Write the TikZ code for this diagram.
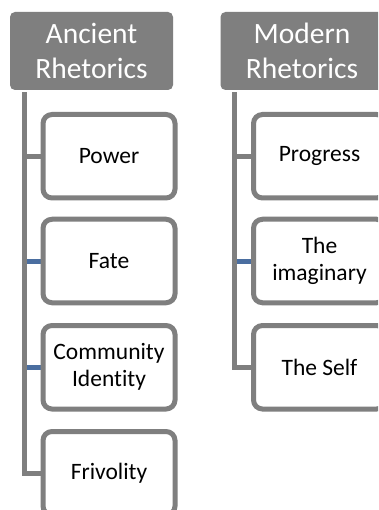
\documentclass[tikz,border=0pt]{standalone}
\usepackage{fontspec}
\setmainfont{Carlito}[Ligatures={NoCommon,NoRare,NoContextual}]
\pgfdeclarelayer{bg}
\pgfdeclarelayer{lines}
\pgfsetlayers{bg,lines,main}
\definecolor{boxgrey}{RGB}{127,127,127}
\definecolor{linkblue}{RGB}{74,110,160}
\tikzset{
  header/.style={fill=boxgrey, rounded corners=5pt, minimum width=163pt, minimum height=78pt,
    text=white, align=center, font=\fontsize{29.5}{35}\selectfont, inner sep=0pt},
  child/.style={draw=boxgrey, line width=5pt, fill=white, rounded corners=9pt,
    minimum width=132pt, minimum height=83.5pt, align=center,
    font=\fontsize{23.5}{27}\selectfont, inner sep=0pt},
  spine/.style={draw=boxgrey, line width=5pt},
  tie/.style={draw=linkblue, line width=5pt},
}
\begin{document}
\begin{tikzpicture}[x=1pt,y=-1pt]
\useasboundingbox (0,0) rectangle (378,510);
\clip (0,0) rectangle (378,510);
\begin{pgfonlayer}{bg}
  \fill[white] (0,0) rectangle (378,510);
\end{pgfonlayer}

% Ancient column
\node[header] (aH) at (91.5,51) {Ancient\\Rhetorics};
\node[child] (a1) at (109,156.25) {Power};
\node[child] (a2) at (109,261) {Fate};
\node[child] (a3) at (109,367.25) {Community\\Identity};
\node[child] (a4) at (109,473.25) {Frivolity};
\coordinate (aS) at ([xshift=-67.5pt,yshift=-2pt]aH.south);

% Modern column
\node[header] (mH) at (302,51) {Modern\\Rhetorics};
\node[child] (m1) at (319.5,156.25) {Progress};
\node[child] (m2) at (319.5,261) {The\\imaginary};
\node[child] (m3) at (319.5,367.25) {The Self};
\coordinate (mS) at ([xshift=-67.5pt,yshift=-2pt]mH.south);

\begin{pgfonlayer}{lines}
  \draw[tie] (aS |- a2.west) -- (a2.west);
  \draw[tie] (aS |- a3.west) -- (a3.west);
  \draw[spine] (aS |- a1.west) -- (a1.west);
  \draw[spine] (aS) |- (a4.west);
  \draw[tie] (mS |- m2.west) -- (m2.west);
  \draw[spine] (mS |- m1.west) -- (m1.west);
  \draw[spine] (mS) |- (m3.west);
\end{pgfonlayer}
\end{tikzpicture}
\end{document}
